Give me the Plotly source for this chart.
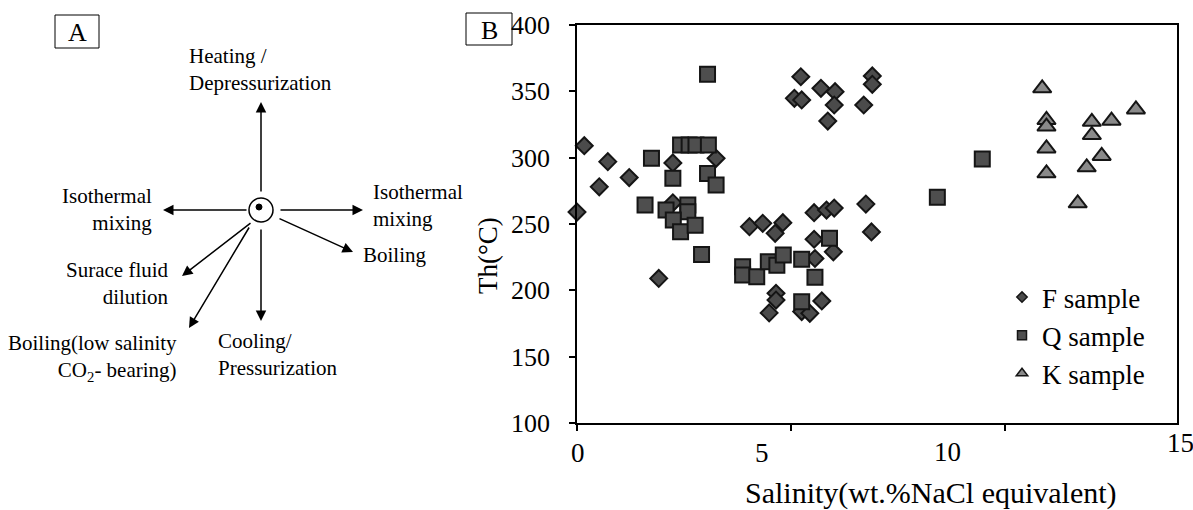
import plotly.graph_objects as go

W, H = 1193, 510
SERIF = "Liberation Serif"

# ---------------- data (panel B) ----------------
F_x = [0.17, 0.72, 0.52, 1.22, 0.00, 2.24, 3.25, 2.24, 1.91, 4.03, 4.34, 4.81, 4.63,
       5.54, 5.83, 6.01, 6.75, 6.88, 5.54, 5.99, 5.56, 4.65, 4.65, 4.49, 5.25, 5.44, 5.72,
       5.23, 5.08, 5.25, 5.70, 6.03, 6.01, 5.86, 6.90, 6.90, 6.70]
F_y = [309, 297, 278, 285, 259, 296, 299.5, 266, 209, 248, 250.5, 251, 243,
       258.5, 260.5, 262, 265, 244, 238.5, 229, 224, 197.8, 192.7, 183, 184, 182.7, 192,
       361, 344.7, 343.5, 352.3, 349.7, 339.7, 327.6, 361.6, 355.3, 339.7]

Q_x = [1.74, 2.42, 2.62, 2.78, 3.07, 2.24, 3.05, 3.25, 1.59, 2.08, 2.59, 2.59, 2.25,
       2.42, 2.76, 2.91, 3.87, 3.87, 4.20, 4.47, 4.67, 4.82, 5.25, 5.56, 5.25, 5.90,
       3.05, 9.47, 8.42]
Q_y = [299.5, 309.5, 309.5, 309.5, 309.5, 284.4, 288, 279.4, 264.3, 260.6, 264.3, 259.3, 253,
       244.2, 249, 227, 217.8, 211.6, 210.3, 221.6, 219, 226.6, 223.4, 209.8, 191.4, 239.3,
       362.8, 299, 270.1]

K_x = [10.87, 10.97, 10.97, 10.97, 10.97, 11.70, 12.03, 12.03, 12.26, 11.91, 12.49, 13.06]
K_y = [352.3, 328.4, 323.4, 307, 288.2, 265.6, 327, 317, 301.3, 292.7, 327.9, 336.4]

series_names = ["F sample", "Q sample", "K sample"]
y_ticks = [100, 150, 200, 250, 300, 350, 400]
x_ticks = [0, 5, 10]
x_tick_labels = ["0", "5", "10", "15"]


def px(x):
    return x / W


def py(y):
    return 1 - y / H


fig = go.Figure()

styles = [
    ("diamond", 13, "#4b4b4b", 8),
    ("square", 15, "#4e4e4e", 9),
    ("triangle-up", 16, "#8a8a8a", 10),
]
for (xs, ys), name, (sym, size, col, lsize) in zip(
        [(F_x, F_y), (Q_x, Q_y), (K_x, K_y)], series_names, styles):
    fig.add_trace(go.Scatter(
        x=xs, y=ys, mode="markers", name=name, showlegend=False, cliponaxis=False,
        marker=dict(symbol=sym, size=size, color=col, line=dict(color="#151515", width=2))))
    # legend key (smaller symbol, like the reference legend)
    fig.add_trace(go.Scatter(
        x=[None], y=[None], mode="markers", name=name,
        marker=dict(symbol=sym, size=lsize, color=col, line=dict(color="#151515", width=1.5))))

fig.update_xaxes(
    domain=[px(577), px(1177)], range=[0, 14.02], tickvals=x_ticks, showticklabels=False,
    ticks="outside", ticklen=6, tickcolor="black", tickwidth=1.5,
    showline=True, mirror=True, linecolor="black", linewidth=2,
    showgrid=False, zeroline=False, fixedrange=True, automargin=False)
fig.update_yaxes(
    domain=[py(423), py(25)], range=[100, 400], tickvals=y_ticks,
    ticks="outside", ticklen=6, tickcolor="black", tickwidth=1.5, ticklabelstandoff=14,
    tickfont=dict(family=SERIF, size=26, color="black"),
    showline=True, mirror=True, linecolor="black", linewidth=1.6,
    showgrid=False, zeroline=False, fixedrange=True, automargin=False)

ann = []
shapes = []

# x tick labels (placed as in the reference)
for lab, (x, y) in zip(x_tick_labels, [(578, 453), (762, 453), (947, 452), (1180, 443)]):
    ann.append(dict(text=lab, x=px(x), y=py(y), xref="paper", yref="paper",
                    xanchor="center", yanchor="middle", showarrow=False,
                    font=dict(family=SERIF, size=27, color="black")))
# axis titles
ann.append(dict(text="Salinity(wt.%NaCl equivalent)", x=px(931), y=py(493), xref="paper", yref="paper",
                xanchor="center", yanchor="middle", showarrow=False,
                font=dict(family=SERIF, size=30, color="black")))
ann.append(dict(text="Th(°C)", x=px(488), y=py(256), xref="paper", yref="paper", textangle=-90,
                xanchor="center", yanchor="middle", showarrow=False,
                font=dict(family=SERIF, size=27, color="black")))

# panel labels
for lab, (x0, y0, x1, y1) in [("A", (55, 15, 99, 48)), ("B", (466, 13, 512, 45))]:
    shapes.append(dict(type="rect", xref="paper", yref="paper", x0=px(x0), x1=px(x1),
                       y0=py(y1), y1=py(y0), line=dict(color="black", width=1)))
    ann.append(dict(text=lab, x=px((x0 + x1) / 2), y=py((y0 + y1) / 2 + 1), xref="paper", yref="paper",
                    xanchor="center", yanchor="middle", showarrow=False,
                    font=dict(family=SERIF, size=26, color="black")))

# ---------------- panel A diagram ----------------
cx, cy = 261, 210
shapes.append(dict(type="circle", xref="paper", yref="paper",
                   x0=px(cx - 12), x1=px(cx + 12), y0=py(cy + 12), y1=py(cy - 12),
                   line=dict(color="black", width=1.5)))
shapes.append(dict(type="circle", xref="paper", yref="paper",
                   x0=px(cx - 5), x1=px(cx + 1), y0=py(cy + 0), y1=py(cy - 6),
                   fillcolor="black", line=dict(color="black", width=1)))

arrows = [  # (tail_x, tail_y, head_x, head_y)
    (261, 193, 261, 102),
    (248, 210, 163, 210),
    (279, 210, 363, 210),
    (261, 228, 261, 321),
    (278, 218, 353, 252),
    (252, 222, 182, 276),
    (250, 226, 189, 328),
]
for tx, ty, hx, hy in arrows:
    ann.append(dict(text="", x=px(hx), y=py(hy), xref="paper", yref="paper",
                    ax=tx - hx, ay=ty - hy, axref="pixel", ayref="pixel",
                    showarrow=True, arrowhead=2, arrowsize=1.4, arrowwidth=1.5,
                    arrowcolor="black", standoff=0, startstandoff=0))

labelsA = [
    ("Heating /<br>Depressurization", 187, 70, "left"),
    ("Isothermal<br>mixing", 154, 209, "right"),
    ("Isothermal<br>mixing", 371, 205, "left"),
    ("Boiling", 361, 255, "left"),
    ("Surace fluid<br>dilution", 171, 283, "right"),
    ("Boiling(low salinity<br>CO<sub>2</sub>- bearing)", 179, 358, "right"),
    ("Cooling/<br>Pressurization", 216, 354, "left"),
]
for txt, x, y, side in labelsA:
    ann.append(dict(text=txt, x=px(x), y=py(y), xref="paper", yref="paper",
                    xanchor=side, yanchor="middle", align=side, showarrow=False,
                    font=dict(family=SERIF, size=21, color="black")))

fig.update_layout(
    width=W, height=H, margin=dict(l=0, r=0, t=0, b=0, pad=0, autoexpand=False),
    autosize=False,
    font=dict(family=SERIF, color="black"),
    paper_bgcolor="white", plot_bgcolor="white",
    showlegend=True,
    legend=dict(x=px(1002), y=py(273), xanchor="left", yanchor="top",
                bgcolor="rgba(0,0,0,0)",
                font=dict(family=SERIF, size=27, color="black")),
    annotations=ann, shapes=shapes,
)

fig.write_html("out.html")
